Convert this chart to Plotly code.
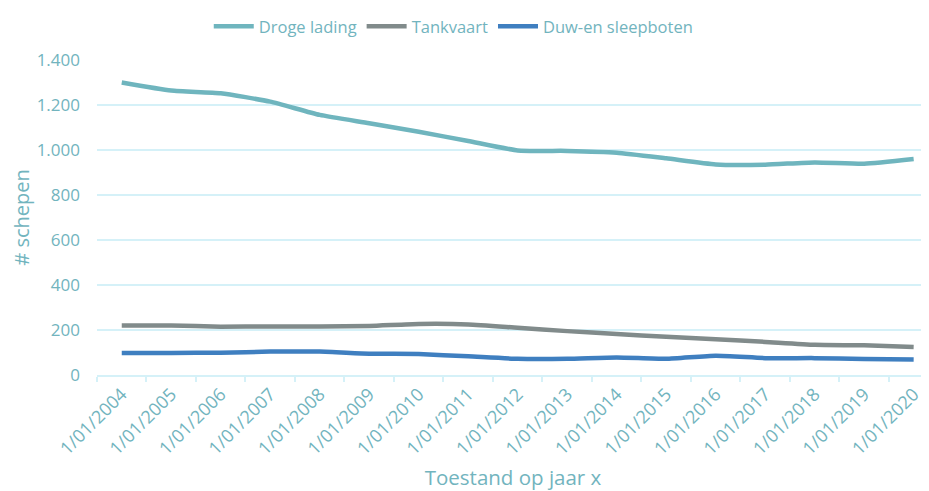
import plotly.graph_objects as go

years = list(range(2004, 2021))
tick_labels = [f"1/01/{y}" for y in years]

droge_lading = [1300, 1264, 1252, 1215, 1156, 1119, 1081, 1040, 998, 996, 988, 963, 936, 935, 945, 939, 960]
tankvaart = [220, 220, 215, 216, 216, 218, 227, 225, 210, 195, 182, 170, 159, 147, 134, 132, 125]
duw_sleep = [98, 98, 99, 104, 104, 95, 93, 83, 72, 72, 78, 72, 86, 75, 75, 71, 69]

series = [
    ("Droge lading", droge_lading, "#6fb5be"),
    ("Tankvaart", tankvaart, "#818b8b"),
    ("Duw-en sleepboten", duw_sleep, "#3f7fc0"),
]

TEXT = "#72b4be"
GRID = "#d5f1f8"
FONT = "Open Sans"

x = list(range(len(years)))

fig = go.Figure()
for name, vals, col in series:
    fig.add_trace(go.Scatter(
        x=x, y=vals, name=name, mode="lines",
        line=dict(color=col, width=4.5, shape="spline", smoothing=0.5),
    ))

fig.update_layout(
    width=921, height=483,
    paper_bgcolor="white", plot_bgcolor="white",
    margin=dict(l=89, r=0, t=52, b=116, autoexpand=False),
    font=dict(family=FONT, color=TEXT, size=16),
    showlegend=True,
    legend=dict(orientation="h", x=0.484, xanchor="center", xref="container",
                y=0.998, yanchor="top", yref="container",
                font=dict(size=16.5, color=TEXT),
                itemwidth=40, traceorder="normal", tracegroupgap=0),
    xaxis=dict(
        range=[-0.5, 16.31],
        tickmode="array", tickvals=x, ticktext=tick_labels,
        tickangle=-45, ticks="", showgrid=False, zeroline=False,
        showline=True, linecolor=GRID, linewidth=1.5,
        tickfont=dict(size=18, color=TEXT),
        minor=dict(tickmode="array", tickvals=[i - 0.5 for i in range(18)],
                   ticks="outside", ticklen=5, tickcolor=GRID, tickwidth=1.5, showgrid=False),
        title=dict(text="Toestand op jaar x", font=dict(size=20.5, color=TEXT), standoff=15),
        automargin=False,
    ),
    yaxis=dict(
        range=[0, 1400], tickmode="array",
        tickvals=[0, 200, 400, 600, 800, 1000, 1200, 1400],
        ticktext=["0", "200", "400", "600", "800", "1.000", "1.200", "1.400"],
        showgrid=True, gridcolor=GRID, gridwidth=1.5, zeroline=False,
        ticks="", ticklabelstandoff=16,
        tickfont=dict(size=17, color=TEXT),
        title=dict(text="# schepen", font=dict(size=20, color=TEXT), standoff=2),
        automargin=False,
    ),
)

fig.write_html("out.html")
